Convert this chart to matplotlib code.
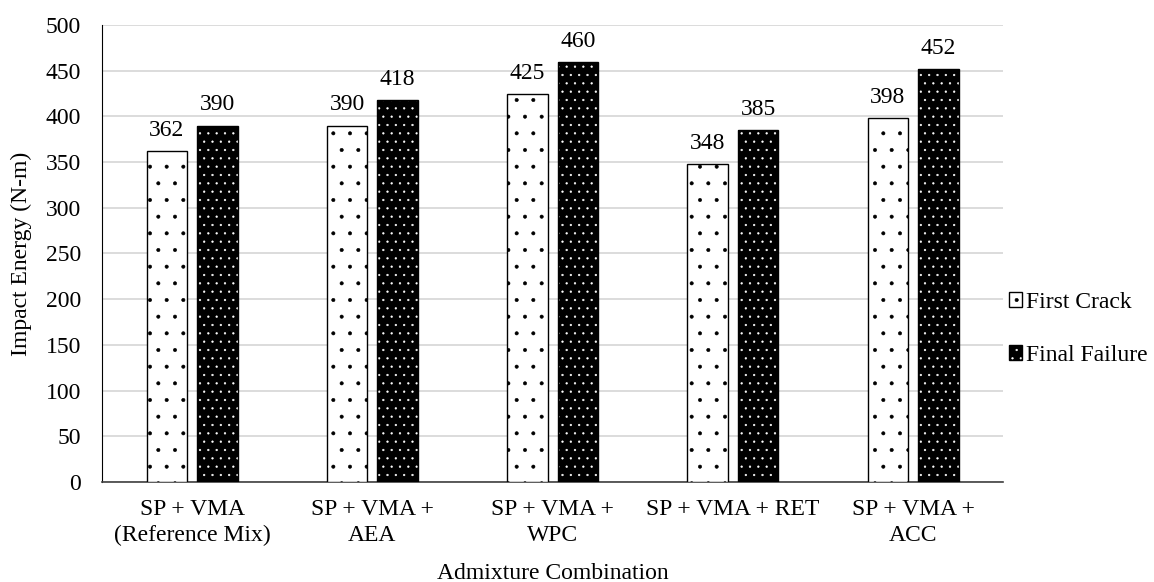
import numpy as np
import matplotlib.pyplot as plt
from matplotlib.patches import Patch

plt.rcParams['font.family'] = ['Liberation Serif', 'DejaVu Serif']
plt.rcParams['hatch.linewidth'] = 0.4

groups = ["SP + VMA\n(Reference Mix)", "SP + VMA +\nAEA", "SP + VMA +\nWPC",
          "SP + VMA + RET", "SP + VMA +\nACC"]
first_crack = [362, 390, 425, 348, 398]
final_failure = [390, 418, 460, 385, 452]

fs = 17
x = np.arange(len(groups))
w = 0.225
off = 0.14

fig = plt.figure(figsize=(11.54, 5.82), dpi=100)
ax = fig.add_axes([0.0884, 0.172, 0.781, 0.785])

# first crack: white bars, sparse black dots
ax.bar(x - off, first_crack, w, facecolor="white", edgecolor="black",
       hatch=".", linewidth=1.0, zorder=3)

# final failure: black bars with white dots, outline drawn on top
ax.bar(x + off, final_failure, w, facecolor="black", edgecolor="white",
       hatch="..", linewidth=0, zorder=3)
ax.bar(x + off, final_failure, w, fill=False, edgecolor="black",
       linewidth=1.0, zorder=4)

for xi, v in zip(x - off, first_crack):
    ax.text(xi, v + 11, str(v), ha="center", va="bottom", fontsize=fs)
for xi, v in zip(x + off, final_failure):
    ax.text(xi, v + 11, str(v), ha="center", va="bottom", fontsize=fs)

ax.set_xlim(-0.5, len(groups) - 0.5)
ax.set_ylim(0, 500)
ax.set_yticks(np.arange(0, 501, 50))
ax.set_xticks(x)
ax.set_xticklabels(groups, fontsize=fs, linespacing=1.35)
ax.tick_params(axis="y", labelsize=fs, length=0, pad=15)
ax.tick_params(axis="x", length=0, pad=12)
ax.yaxis.grid(True, color="#d9d9d9", linewidth=1.3, zorder=0)
ax.set_axisbelow(True)
for s in ["top", "right"]:
    ax.spines[s].set_visible(False)
ax.spines["left"].set_color("black")
ax.spines["bottom"].set_color("#404040")
ax.spines["bottom"].set_linewidth(1.2)

ax.set_ylabel("Impact Energy (N-m)", fontsize=fs, labelpad=10)
ax.set_xlabel("Admixture Combination", fontsize=fs, labelpad=12)

h1 = Patch(facecolor="white", edgecolor="black", hatch=".", linewidth=1.0)
h2a = Patch(facecolor="black", edgecolor="white", hatch="..", linewidth=0)
h2b = Patch(fill=False, edgecolor="black", linewidth=1.0)
ax.legend([h1, (h2a, h2b)], ["First Crack", "Final Failure"],
          loc="center left", bbox_to_anchor=(1.006, 0.335), frameon=False,
          fontsize=fs, handlelength=0.55, handleheight=0.55, handletextpad=0.2,
          labelspacing=1.35, borderaxespad=0, borderpad=0)

fig.savefig("out.png", dpi=100)
